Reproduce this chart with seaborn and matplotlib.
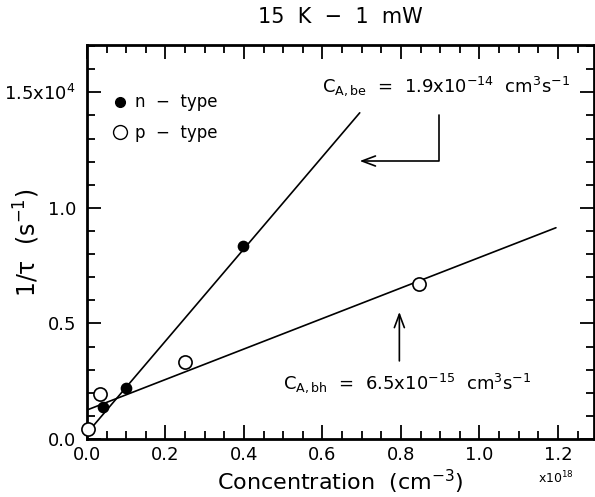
import numpy as np
import pandas as pd
import matplotlib
matplotlib.use("Agg")
import matplotlib.pyplot as plt
import seaborn as sns
from matplotlib.ticker import MultipleLocator, FixedLocator
from matplotlib.lines import Line2D

# ---- data (x in units of 1e18 cm^-3, y in s^-1) ----
n_conc = [0.040, 0.099, 0.397]
n_rate = [1400, 2190, 8350]
p_conc = [0.003, 0.033, 0.249, 0.845]
p_rate = [420, 1950, 3330, 6710]

# fitted lines (intercept s^-1, slope s^-1 per 1e18 cm^-3, x-range)
n_fit_intercept, n_fit_slope, n_fit_range = 250, 19950, [0.0, 0.695]
p_fit_intercept, p_fit_slope, p_fit_range = 1255, 6600, [0.0, 1.195]

title = "15  K  \u2212  1  mW"
xlabel = "Concentration  (cm$^{-3}$)"
ylabel = "1/$\\tau$  (s$^{-1}$)"
ytick_vals = [0, 5000, 10000, 15000]
ytick_labels = ["0.0", "0.5", "1.0", "1.5x10$^4$"]
xtick_vals = [0.0, 0.2, 0.4, 0.6, 0.8, 1.0, 1.2]
xtick_labels = ["0.0", "0.2", "0.4", "0.6", "0.8", "1.0", "1.2"]

sns.set_theme(style="ticks")
plt.rcParams["font.family"] = ["DejaVu Sans"]
plt.rcParams["mathtext.fontset"] = "dejavusans"
plt.rcParams["mathtext.default"] = "regular"
plt.rcParams["text.color"] = "black"
plt.rcParams["axes.labelcolor"] = "black"
plt.rcParams["xtick.color"] = "black"
plt.rcParams["ytick.color"] = "black"

fig = plt.figure(figsize=(5.95, 4.97), dpi=100)
ax = fig.add_axes([87/595, 1-439/497, (594-87)/595, (439-45)/497])

df_n = pd.DataFrame({"x": n_conc, "y": n_rate})
df_p = pd.DataFrame({"x": p_conc, "y": p_rate})

fit_n = pd.DataFrame({"x": n_fit_range,
                      "y": [n_fit_intercept + n_fit_slope * v for v in n_fit_range]})
fit_p = pd.DataFrame({"x": p_fit_range,
                      "y": [p_fit_intercept + p_fit_slope * v for v in p_fit_range]})

sns.lineplot(data=fit_n, x="x", y="y", ax=ax, color="black", lw=1.2)
sns.lineplot(data=fit_p, x="x", y="y", ax=ax, color="black", lw=1.2)
sns.scatterplot(data=df_n, x="x", y="y", ax=ax, color="black", s=55,
                marker="o", edgecolor="black", linewidth=1, zorder=5, clip_on=False)
sns.scatterplot(data=df_p, x="x", y="y", ax=ax, facecolor="white", s=90,
                marker="o", edgecolor="black", linewidth=1.2, zorder=5, clip_on=False)

ax.set_xlim(0, 1.292)
ax.set_ylim(0, 17050)

ax.xaxis.set_major_locator(FixedLocator(xtick_vals))
ax.set_xticklabels(xtick_labels)
ax.xaxis.set_minor_locator(MultipleLocator(0.05))
ax.yaxis.set_major_locator(FixedLocator(ytick_vals))
ax.set_yticklabels(ytick_labels)
ax.yaxis.set_minor_locator(MultipleLocator(1000))

ax.tick_params(which="both", direction="in", top=True, right=True,
               labelsize=13, width=1.3, colors="black")
ax.tick_params(which="major", length=10, pad=8)
ax.tick_params(axis="x", which="major", pad=5)
ax.tick_params(which="minor", length=6)
for sp in ax.spines.values():
    sp.set_linewidth(2)
    sp.set_color("black")

ax.set_xlabel(xlabel, fontsize=16, color="black")
ax.set_ylabel(ylabel, fontsize=17, color="black")
ax.yaxis.set_label_coords(-0.089, 0.497)
ax.xaxis.set_label_coords(0.5, -0.072)
ax.set_title(title, fontsize=15, pad=16, color="black")

ax.text(1.196, -0.1, "x10$^{18}$", transform=ax.get_xaxis_transform(),
        ha="center", va="center", fontsize=9, color="black")

# legend
handles = [Line2D([], [], marker="o", ls="none", color="black", markersize=7),
           Line2D([], [], marker="o", ls="none", markerfacecolor="white",
                  markeredgecolor="black", markersize=10)]
leg = ax.legend(handles, ["n  \u2212  type", "p  \u2212  type"], loc="upper left",
                bbox_to_anchor=(0.015, 0.915), frameon=False, fontsize=12,
                handletextpad=0.3, labelspacing=0.75, handlelength=1.2)
for t in leg.get_texts():
    t.set_color("black")

# annotations
ax.text(0.598, 15280, "C$_{A,be}$  =  1.9x10$^{-14}$  cm$^3$s$^{-1}$",
        fontsize=13, ha="left", va="center", color="black")
ax.annotate("", xy=(0.695, 12030), xytext=(0.896, 14030),
            arrowprops=dict(arrowstyle="->,head_length=0.8,head_width=0.3",
                            connectionstyle="angle,angleA=90,angleB=0,rad=0",
                            shrinkA=0, shrinkB=0, lw=1.2, color="black"))
ax.text(0.499, 2420, "C$_{A,bh}$  =  6.5x10$^{-15}$  cm$^3$s$^{-1}$",
        fontsize=13, ha="left", va="center", color="black")
ax.annotate("", xy=(0.796, 5500), xytext=(0.796, 3380),
            arrowprops=dict(arrowstyle="->,head_length=0.8,head_width=0.3",
                            shrinkA=0, shrinkB=0, lw=1.2, color="black"))

fig.savefig("out.png", dpi=100)
